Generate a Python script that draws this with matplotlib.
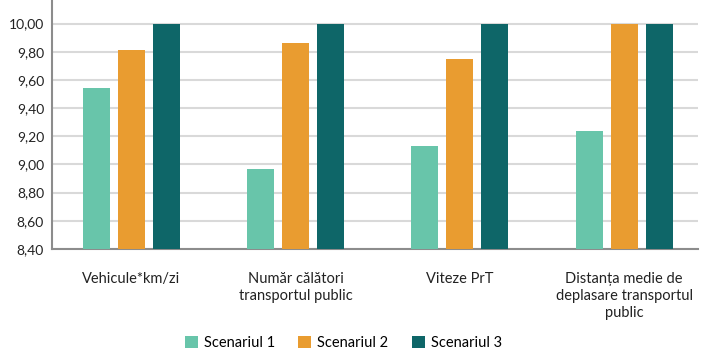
import matplotlib
matplotlib.use("Agg")
import matplotlib.pyplot as plt
import numpy as np

categories = ["Vehicule*km/zi", "Număr călători\ntransportul public", "Viteze PrT",
              "Distanța medie de\ndeplasare transportul\npublic"]
series_names = ["Scenariul 1", "Scenariul 2", "Scenariul 3"]
scenariul_1 = [9.54, 8.97, 9.13, 9.24]
scenariul_2 = [9.81, 9.86, 9.75, 10.00]
scenariul_3 = [10.00, 10.00, 10.00, 10.00]
y_ticks = [8.4, 8.6, 8.8, 9.0, 9.2, 9.4, 9.6, 9.8, 10.0]

COLORS = ["#68C5AA", "#E99C30", "#0E6668"]

plt.rcParams["font.family"] = ["Lato", "DejaVu Sans"]

fig = plt.figure(figsize=(7.08, 3.49), dpi=100)
ax = fig.add_axes([0.074, 0.287, 0.912, 0.71])

x = np.arange(len(categories))
width = 0.165
offsets = [-0.213, 0.0, 0.213]
for vals, off, col, name in zip([scenariul_1, scenariul_2, scenariul_3], offsets, COLORS, series_names):
    ax.bar(x + off, np.array(vals) - 8.4, width, bottom=8.4, color=col, label=name, zorder=3)

ax.set_ylim(8.4, 10.16)
ax.set_xlim(-0.48, 3.45)
ax.set_yticks(y_ticks)
ax.set_yticklabels([f"{v:.2f}".replace(".", ",") for v in y_ticks], fontsize=10, color="#222222")
ax.set_xticks(x)
ax.set_xticklabels(categories, fontsize=10.5, color="#222222", linespacing=1.25)
ax.tick_params(axis="both", length=0)
ax.tick_params(axis="x", pad=17)
ax.tick_params(axis="y", pad=6)
ax.grid(axis="y", color="#D9D9D9", linewidth=1.5, zorder=0)
for s in ["top", "right"]:
    ax.spines[s].set_visible(False)
ax.spines["left"].set_color("#8C8C8C")
ax.spines["bottom"].set_color("#8C8C8C")
ax.spines["left"].set_linewidth(1.5)
ax.spines["bottom"].set_linewidth(1.5)

fig.legend(loc="lower center", bbox_to_anchor=(0.485, -0.04), ncol=3, frameon=False,
           fontsize=10.5, handlelength=0.9, handleheight=0.9, handletextpad=0.4,
           columnspacing=1.6)

fig.savefig("out.png", dpi=100)
